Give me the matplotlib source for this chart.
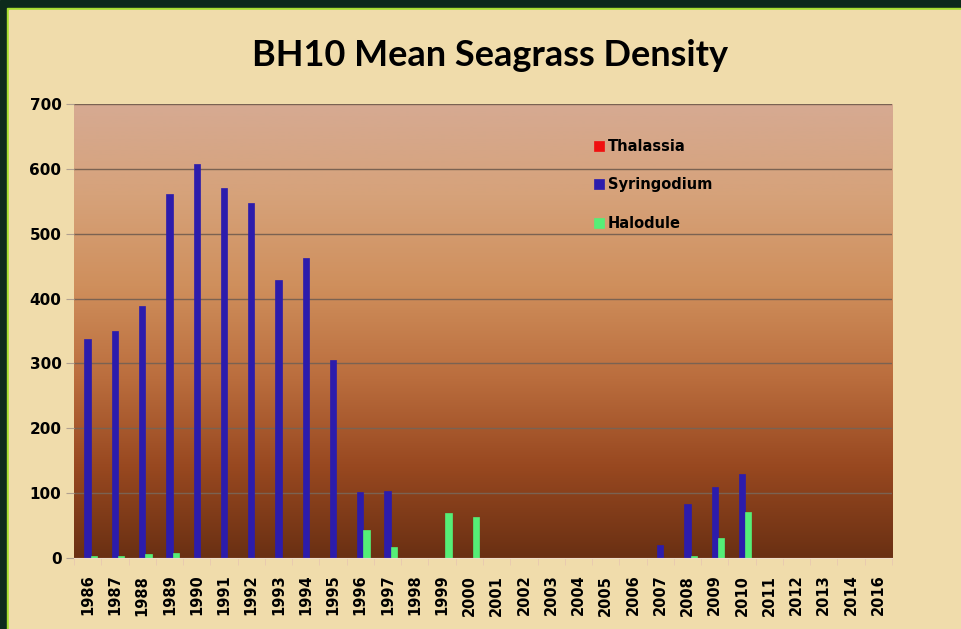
import numpy as np
import matplotlib.pyplot as plt
from matplotlib.colors import LinearSegmentedColormap
from matplotlib.patches import Rectangle

years = [str(y) for y in range(1986, 2015)] + ['2016']
thalassia = [0] * 30
syringodium = [338, 350, 388, 562, 608, 570, 548, 428, 462, 305,
               102, 103, 0, 0, 0, 0, 0, 0, 0, 0,
               0, 20, 83, 110, 129, 0, 0, 0, 0, 0]
halodule = [3, 3, 6, 8, 0, 0, 0, 0, 0, 0,
            43, 17, 0, 69, 63, 0, 0, 0, 0, 0,
            0, 0, 3, 31, 71, 0, 0, 0, 0, 0]

series = [('Thalassia', thalassia, '#f01010'),
          ('Syringodium', syringodium, '#2c1cac'),
          ('Halodule', halodule, '#55ee77')]

fig = plt.figure(figsize=(9.61, 6.29), dpi=100)

## background: dark green frame, lime line, parchment
fig.patches.append(Rectangle((0, 0), 1, 1, transform=fig.transFigure, color='#0d2a1c', zorder=-10))
fig.patches.append(Rectangle((7/961, 0), 1, 1 - 8/629, transform=fig.transFigure, color='#a8e030', zorder=-9))
fig.patches.append(Rectangle((9/961, 0), 1, 1 - 10/629, transform=fig.transFigure, color='#f0dcab', zorder=-8))

ax = fig.add_axes([74/961, 71/629, (892-74)/961, (558-104)/629])
ax.patch.set_alpha(0)

grad = LinearSegmentedColormap.from_list('bg', [
    (0.0, '#6a3013'),
    (0.2, '#984820'),
    (0.4, '#bb6e3e'),
    (0.6, '#cf8f5c'),
    (0.8, '#d6a27a'),
    (1.0, '#d6aa92'),
])
x = np.arange(len(years))
ax.imshow(np.linspace(0, 1, 256).reshape(-1, 1), cmap=grad, origin='lower', aspect='auto',
          extent=(-0.5, len(years) - 0.5, 0, 700), zorder=0)

for yv in range(100, 800, 100):
    ax.axhline(yv, color='#7a6252', lw=1.0, zorder=1)

w = 0.23
for i, (name, vals, col) in enumerate(series):
    ax.bar(x + (i - 1) * w, vals, width=w, color=col, edgecolor=col, lw=0.5, label=name, zorder=2)

ax.set_xlim(-0.5, len(years) - 0.5)
ax.set_ylim(0, 700)
ax.set_yticks(range(0, 800, 100))
ax.set_xticks(x)
ax.set_xticklabels(years, rotation=90, fontweight='bold', fontsize=10.5)
for lab in ax.get_yticklabels():
    lab.set_fontweight('bold')
    lab.set_fontsize(11)
ax.tick_params(axis='y', length=6, color='#b0a090', pad=3)
ax.tick_params(axis='x', length=0, pad=12)
ax.set_xticks(np.arange(-0.5, len(years)), minor=True)
ax.tick_params(axis='x', which='minor', length=5, color='#e8c8b0')
for s in ['top', 'right', 'left']:
    ax.spines[s].set_visible(False)
ax.spines['bottom'].set_color('#f0dcc8')

ax.legend(loc='upper left', bbox_to_anchor=(581/961, 1 - 126/629), bbox_transform=fig.transFigure,
          frameon=False, handlelength=0.65, handleheight=0.65, handletextpad=0.3, labelspacing=1.6,
          prop=dict(weight='bold', size=10.5))

fig.text(490/961, 1 - 55/629, 'BH10 Mean Seagrass Density', ha='center', va='center',
         fontsize=26, fontweight='bold', family='Lato')

fig.savefig('out.png', dpi=100)
